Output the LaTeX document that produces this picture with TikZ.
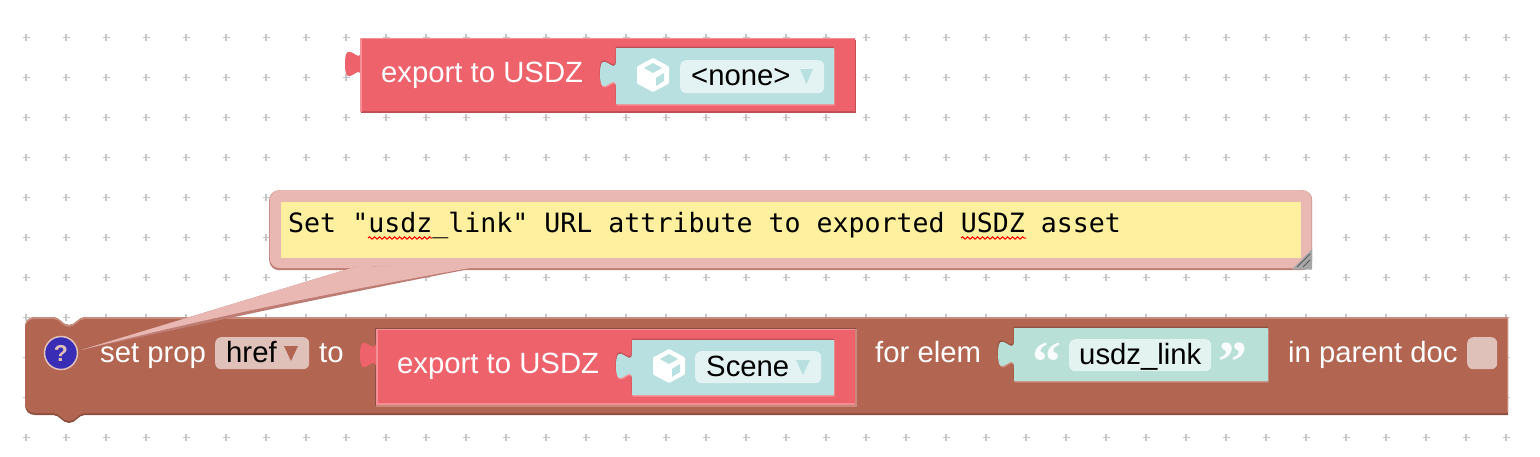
\documentclass[tikz,border=0pt]{standalone}
\usepackage{fontspec}
\setmainfont{Liberation Sans}
\newfontfamily\notefont{DejaVu Sans Mono}
\newfontfamily\quotefont{Liberation Serif}
\usetikzlibrary{positioning,calc,decorations.pathmorphing}

\definecolor{redfill}{HTML}{EE626B}
\definecolor{redlight}{HTML}{F58F96}
\definecolor{reddark}{HTML}{BE4E56}
\definecolor{tealfill}{HTML}{B8E0E0}
\definecolor{tealfield}{HTML}{E3F3F3}
\definecolor{mintfill}{HTML}{B8E0D6}
\definecolor{mintfield}{HTML}{E3F3EF}
\definecolor{brownfill}{HTML}{B26551}
\definecolor{brownlight}{HTML}{C98B7B}
\definecolor{browndark}{HTML}{8E5141}
\definecolor{brownfield}{HTML}{E0C1B9}
\definecolor{notepink}{HTML}{E9B8B2}
\definecolor{noteedge}{HTML}{BE7D74}
\definecolor{noteyellow}{HTML}{FEF09F}
\definecolor{helpblue}{HTML}{3A2DB5}

\newcommand{\cubeicon}[3]{
	\fill[white,rounded corners=1pt,shift={(#1,#2)}] (0,-17) -- (16,-8.5) -- (16,8.5) -- (0,17) -- (-16,8.5) -- (-16,-8.5) -- cycle;
	\fill[#3,shift={(#1,#2)}] (0,-12) -- (9,-7) -- (0,-2) -- (-9,-7) -- cycle;
	\fill[#3,shift={(#1,#2)}] (3,3) -- (11,-2) -- (11,6) -- (3,11) -- cycle;
}

\begin{document}
\begin{tikzpicture}[
x=1pt,y=-1pt,
tabblock/.style n args={4}{insert path={
	(#1,#2) -- (#1,#2+12)
	.. controls (#1,#2+30.5) and (#1-16,#2-2.8) .. (#1-16,#2+25.9)
	.. controls (#1-16,#2+54.6) and (#1,#2+21.3) .. (#1,#2+39.8)
	-- (#1,#4) -- (#3,#4) -- (#3,#2) -- cycle}},
longblock/.style n args={3}{insert path={
	(35,#1) -- (53,#1) .. controls (60,#1) and (62,#1+8) .. (69,#1+8) .. controls (76,#1+8) and (78,#1) .. (85,#1)
	-- (#3,#1) -- (#3,#2)
	-- (85,#2) .. controls (78,#2) and (76,#2+8) .. (69,#2+8) .. controls (62,#2+8) and (60,#2) .. (53,#2)
	-- (35,#2) .. controls (29,#2) and (25,#2-4) .. (25,#2-10)
	-- (25,#1+10) .. controls (25,#1+4) and (29,#1) .. (35,#1) -- cycle}},
gridmark/.style={draw=black!22,line width=1.1pt},
label/.style={text=white,font=\fontsize{29.3}{32}\selectfont,inner sep=0pt,anchor=base west},
fieldtext/.style={text=black,font=\fontsize{29.3}{32}\selectfont,inner sep=0pt,anchor=base west},
field/.style={rounded corners=6pt,draw=none,inner sep=0pt,anchor=north west},
notetext/.style={text=black,font=\notefont\fontsize{26.6}{30}\selectfont,inner sep=0pt,anchor=base west},
quotemark/.style={text=white!92!mintfill,font=\quotefont\bfseries\fontsize{58}{58}\selectfont,inner sep=0pt},
spell/.style={draw=red,line width=1pt,decorate,decoration={snake,amplitude=1.2pt,segment length=5pt}},
]
	\useasboundingbox (0,0) rectangle (1540,456);
	\fill[white] (0,0) rectangle (1540,456);

	% dot grid
	\foreach \i in {0,...,37}
		\foreach \j in {0,...,10}
			\draw[gridmark] (26+\i*40,37.7+\j*40) +(-3.5,0) -- +(3.5,0) +(0,-3.5) -- +(0,3.5);

	% free block
	\fill[reddark] (361,40) rectangle (856,112.5);
	\path[fill=redfill,tabblock={361}{38}{855}{111}];
	\draw[redlight,line width=1.5pt] (361,112) -- (361,38.7) -- (855,38.7);
	\path[fill=reddark,yshift=1.5pt,xshift=-0.5pt,tabblock={616}{48}{834}{104}];
	\path[fill=redlight,yshift=-1.5pt,xshift=0.5pt,tabblock={616}{48}{834}{104}];
	\path[fill=tealfill,tabblock={616}{48}{834}{104}];
	\node[label] (free label) at (381,82) {export to USDZ};
	\cubeicon{653}{75}{tealfill}
	\node[field,fill=tealfield,minimum width=144pt,minimum height=33pt] (free field) at (680,60) {};
	\node[fieldtext] (free value) at (691,85) {<none>};
	\fill[tealfill] (800,69) -- (813,69) -- (806.5,84) -- cycle;

	% long block
	\path[fill=browndark,longblock={317}{415}{1508}];
	\path[fill=brownlight,longblock={317}{412}{1508}];
	\path[fill=brownfill,longblock={319}{413}{1507}];

	\node[label] (prop label) at (100,362) {set prop};
	\node[field,fill=brownfield,minimum width=94pt,minimum height=32pt] (prop field) at (215,337) {};
	\node[fieldtext] (prop value) at (226,362) {href};
	\fill[brownfill] (284,346) -- (298,346) -- (291,361) -- cycle;
	\node[label] (to label) at (319,362) {to};

	% export block plugged in
	\fill[browndark] (375,327.5) rectangle (856,406);
	\fill[brownlight] (376,329) rectangle (857,407);
	\path[fill=redfill,tabblock={376}{329}{855}{405}];
	\draw[redlight,line width=1.5pt] (377,405) -- (377,329.7) -- (855,329.7);
	\draw[redlight,line width=1.5pt] (376,404) -- (855,404);
	\path[fill=reddark,yshift=1.5pt,xshift=-0.5pt,tabblock={632}{340}{834}{395}];
	\path[fill=redlight,yshift=-1.5pt,xshift=0.5pt,tabblock={632}{340}{834}{395}];
	\path[fill=tealfill,tabblock={632}{340}{834}{395}];
	\node[label] (plug label) at (397,373) {export to USDZ};
	\cubeicon{669}{366}{tealfill}
	\node[field,fill=tealfield,minimum width=126pt,minimum height=32pt] (plug field) at (695,351) {};
	\node[fieldtext] (plug value) at (706,376) {Scene};
	\fill[tealfill] (796,360) -- (810,360) -- (803,375) -- cycle;

	\node[label] (elem label) at (875,362) {for elem};

	% string block
	\path[fill=browndark,yshift=1.5pt,xshift=-0.5pt,tabblock={1014}{328}{1268}{381}];
	\path[fill=brownlight,yshift=-1.5pt,xshift=0.5pt,tabblock={1014}{328}{1268}{381}];
	\path[fill=mintfill,tabblock={1014}{328}{1268}{381}];
	\node[quotemark] (open quote) at (1047,362) {“};
	\node[field,fill=mintfield,minimum width=142pt,minimum height=32pt] (link field) at (1069,339) {};
	\node[fieldtext] (link value) at (1079,364) {usdz\_link};
	\node[quotemark] (close quote) at (1233,362) {”};

	\node[label] (doc label) at (1288,362) {in parent doc};
	\node[field,fill=brownfield,minimum width=30pt,minimum height=32pt] (doc check) at (1467,337) {};

	% comment bubble
	\node[fill=noteedge,rounded corners=10pt,minimum width=1043pt,minimum height=80pt,inner sep=0pt,anchor=north west] (note shade) at (269,190) {};
	\node[fill=notepink,rounded corners=10pt,minimum width=1042pt,minimum height=78pt,inner sep=0pt,anchor=north west] (note) at (269.5,190) {};
	\coordinate (tail a) at (358,266);
	\coordinate (tail b) at (470,266);
	\coordinate (tail tip) at (81,350);
	\fill[noteedge] (tail a) -- (tail tip) .. controls (220,320) and (330,296) .. ($(tail b)+(0,3)$) -- cycle;
	\fill[notepink] (tail a) -- (tail tip) .. controls (215,316) and (330,293) .. ($(tail b)+(0,2)$) -- cycle;
	\node[fill=noteyellow,minimum width=1020pt,minimum height=56pt,inner sep=0pt,anchor=north west] (note paper) at (281,202) {};
	\node[notetext] (note text) at (288,232) {Set "usdz\_link" URL attribute to exported USDZ asset};
	\draw[spell] (368,238) -- (432,238);
	\draw[spell] (961,238) -- (1026,238);

	% resize handle
	\fill[black!35] (1312,249) -- (1312,269.5) -- (1292,269.5) -- cycle;
	\draw[black!65,line width=1pt] (1297,267) -- (1310,254) (1303,267) -- (1310,260);

	% help icon
	\node[circle,fill=helpblue,draw=brownfield,line width=1.5pt,minimum size=33pt,inner sep=0pt,text=brownfield,font=\bfseries\fontsize{23}{24}\selectfont] (help) at (61,353) {?};
\end{tikzpicture}
\end{document}
